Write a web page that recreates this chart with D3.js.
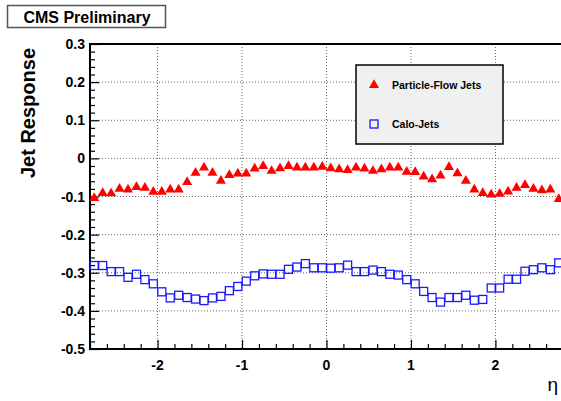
<!DOCTYPE html>
<html>
<head>
<meta charset="utf-8">
<script src="https://cdn.jsdelivr.net/npm/d3@7"></script>
<style>
  body { margin: 0; background: #fff; }
  text { font-family: "Liberation Sans", Arial, sans-serif; }
</style>
</head>
<body>
<div id="chart"></div>
<script>
// chart size
var svgWidth = 561;
var svgHeight = 401;

var margin = { top: 44, right: -2, bottom: 52, left: 90 };
var chartWidth = svgWidth - margin.left - margin.right;
var chartHeight = svgHeight - margin.top - margin.bottom;

// eta bin centres, -2.75 .. 2.75 in steps of 0.1
var etaBins = d3.range(56).map(function(i) { return +(-2.75 + i * 0.1).toFixed(2); });

// Particle-Flow jets response
var pfResponse = [
  -0.104, -0.091, -0.092, -0.080, -0.082, -0.075, -0.077, -0.088, -0.088, -0.082,
  -0.082, -0.062, -0.038, -0.024, -0.038, -0.059, -0.044, -0.040, -0.040, -0.027,
  -0.020, -0.033, -0.026, -0.020, -0.024, -0.024, -0.024, -0.022, -0.026, -0.029,
  -0.031, -0.024, -0.027, -0.033, -0.029, -0.024, -0.024, -0.035, -0.036, -0.048,
  -0.055, -0.045, -0.023, -0.039, -0.059, -0.082, -0.091, -0.095, -0.093, -0.087,
  -0.077, -0.070, -0.080, -0.084, -0.082, -0.107
];

// Calo jets response
var caloResponse = [
  -0.281, -0.281, -0.297, -0.297, -0.312, -0.304, -0.318, -0.329, -0.350, -0.366,
  -0.359, -0.365, -0.369, -0.373, -0.366, -0.362, -0.347, -0.336, -0.322, -0.308,
  -0.303, -0.304, -0.304, -0.291, -0.285, -0.276, -0.287, -0.287, -0.288, -0.287,
  -0.280, -0.297, -0.297, -0.293, -0.297, -0.304, -0.306, -0.318, -0.329, -0.349,
  -0.365, -0.377, -0.365, -0.365, -0.359, -0.372, -0.370, -0.340, -0.340, -0.317,
  -0.317, -0.296, -0.292, -0.287, -0.292, -0.274
];

var xTicks = [-2, -1, 0, 1, 2];
var yTicks = [0.3, 0.2, 0.1, 0, -0.1, -0.2, -0.3, -0.4, -0.5];

var svg = d3.select("#chart")
  .append("svg")
  .attr("width", svgWidth)
  .attr("height", svgHeight);

var chartGroup = svg.append("g")
  .attr("transform", `translate(${margin.left}, ${margin.top})`);

var xScale = d3.scaleLinear().domain([-2.8, 2.8]).range([0, chartWidth]);
var yScale = d3.scaleLinear().domain([-0.5, 0.3]).range([chartHeight, 0]);

// dotted grid
chartGroup.selectAll(".vgrid")
  .data(xTicks)
  .enter().append("line")
  .attr("x1", d => xScale(d)).attr("x2", d => xScale(d))
  .attr("y1", 0).attr("y2", chartHeight)
  .attr("stroke", "#666").attr("stroke-width", 1)
  .attr("stroke-dasharray", "1,2");

chartGroup.selectAll(".hgrid")
  .data(yTicks.slice(1, -1))
  .enter().append("line")
  .attr("x1", 0).attr("x2", chartWidth)
  .attr("y1", d => yScale(d)).attr("y2", d => yScale(d))
  .attr("stroke", "#666").attr("stroke-width", 1)
  .attr("stroke-dasharray", "1,2");

// axes, ticks inside like ROOT
var xAxis = d3.axisBottom(xScale)
  .tickValues(d3.range(-28, 29, 2).map(d => d / 10))
  .tickSize(-5)
  .tickFormat("");
var yAxis = d3.axisLeft(yScale)
  .tickValues(d3.range(-50, 31, 2).map(d => d / 100))
  .tickSize(-5)
  .tickFormat("");

var xg = chartGroup.append("g")
  .attr("transform", `translate(0, ${chartHeight})`)
  .call(xAxis);
xg.selectAll(".tick line").attr("y2", d => Math.abs(Math.round(d * 10) % 10) === 0 ? -9 : -5);

var yg = chartGroup.append("g").call(yAxis);
yg.selectAll(".tick line").attr("x2", d => Math.abs(Math.round(d * 100) % 10) === 0 ? 9 : 5);

[xg, yg].forEach(function(g) {
  g.select(".domain").remove();
  g.selectAll(".tick line").attr("stroke", "#000").attr("stroke-width", 1.2);
});

// tick labels
chartGroup.selectAll(".xlab")
  .data(xTicks)
  .enter().append("text")
  .attr("x", d => xScale(d))
  .attr("y", chartHeight + 21)
  .attr("text-anchor", "middle")
  .attr("font-size", "14px")
  .attr("font-weight", "bold")
  .text(d => d);

chartGroup.selectAll(".ylab")
  .data(yTicks)
  .enter().append("text")
  .attr("x", -5)
  .attr("y", d => yScale(d))
  .attr("dy", "0.36em")
  .attr("text-anchor", "end")
  .attr("font-size", "14px")
  .attr("font-weight", "bold")
  .text(d => d);

// frame
chartGroup.append("path")
  .attr("d", `M${chartWidth + 2},0 H0 V${chartHeight} H${chartWidth + 2}`)
  .attr("fill", "none")
  .attr("stroke", "#000")
  .attr("stroke-width", 2);

// Calo-jets: open blue squares
chartGroup.selectAll(".calo")
  .data(caloResponse)
  .enter().append("rect")
  .attr("x", (d, i) => xScale(etaBins[i]) - 4)
  .attr("y", d => yScale(d) - 4)
  .attr("width", 8)
  .attr("height", 8)
  .attr("fill", "none")
  .attr("stroke", "#1a1aff")
  .attr("stroke-width", 1.3);

// PF jets: red triangles
var tri = d3.symbol().type(d3.symbolTriangle).size(44);
chartGroup.selectAll(".pf")
  .data(pfResponse)
  .enter().append("path")
  .attr("d", tri)
  .attr("transform", (d, i) => `translate(${xScale(etaBins[i])}, ${yScale(d)})`)
  .attr("fill", "#ff0000");

// axis titles
svg.append("text")
  .attr("transform", "translate(35, 113) rotate(-90)")
  .attr("text-anchor", "middle")
  .attr("font-size", "20px")
  .attr("font-weight", "bold")
  .text("Jet Response");

svg.append("text")
  .attr("x", 558)
  .attr("y", 391)
  .attr("text-anchor", "end")
  .attr("font-size", "19px")
  .text("η");

// CMS Preliminary box
svg.append("rect")
  .attr("x", 7.5).attr("y", 5.5)
  .attr("width", 158).attr("height", 22)
  .attr("fill", "#fff")
  .attr("stroke", "#555")
  .attr("stroke-width", 1.5);
svg.append("text")
  .attr("x", 87).attr("y", 22.5)
  .attr("text-anchor", "middle")
  .attr("font-size", "16px")
  .attr("font-weight", "bold")
  .text("CMS Preliminary");

// legend
var legend = svg.append("g").attr("transform", "translate(356, 65)");
legend.append("rect")
  .attr("width", 147).attr("height", 79)
  .attr("fill", "#f0f0f0")
  .attr("stroke", "#000")
  .attr("stroke-width", 1.5);
legend.append("path")
  .attr("d", tri)
  .attr("transform", "translate(18, 20)")
  .attr("fill", "#ff0000");
legend.append("rect")
  .attr("x", 14).attr("y", 55)
  .attr("width", 8).attr("height", 8)
  .attr("fill", "none")
  .attr("stroke", "#1a1aff")
  .attr("stroke-width", 1.3);
legend.append("text")
  .attr("x", 36).attr("y", 24)
  .attr("font-size", "10.5px")
  .attr("font-weight", "bold")
  .text("Particle-Flow Jets");
legend.append("text")
  .attr("x", 36).attr("y", 63)
  .attr("font-size", "10.5px")
  .attr("font-weight", "bold")
  .text("Calo-Jets");
</script>
</body>
</html>
